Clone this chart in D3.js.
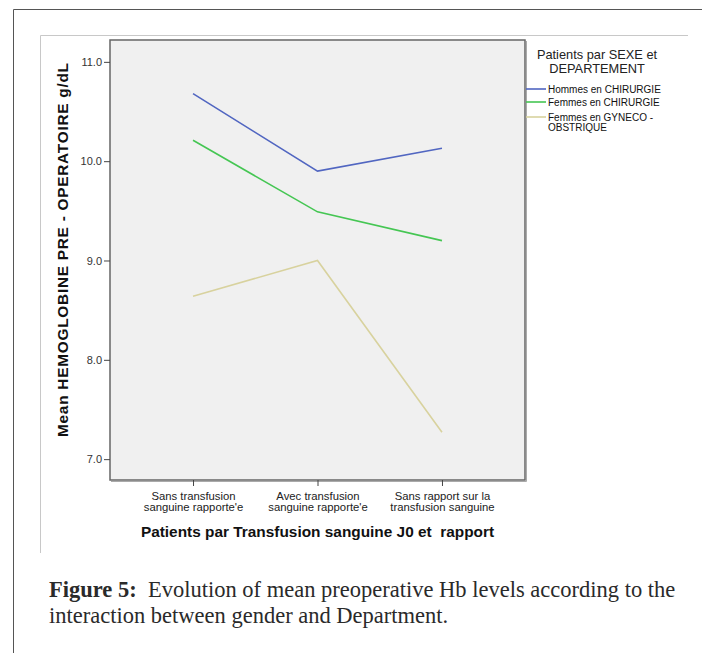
<!DOCTYPE html>
<html>
<head>
<meta charset="utf-8">
<script src="https://cdn.jsdelivr.net/npm/d3@7"></script>
<style>
  body { margin: 0; background: #fff; }
  svg { display: block; }
</style>
</head>
<body>
<svg id="chart"></svg>
<script>
// categories on the x axis (two lines each)
const categories = [
  ["Sans transfusion", "sanguine rapporte'e"],
  ["Avec transfusion", "sanguine rapporte'e"],
  ["Sans rapport sur la", "transfusion sanguine"]
];
const seriesNames = ["Hommes en CHIRURGIE", "Femmes en CHIRURGIE", ["Femmes en GYNECO -", "OBSTRIQUE"]];
const hommesChirurgie = [10.68, 9.90, 10.13];
const femmesChirurgie = [10.21, 9.49, 9.20];
const femmesGyneco = [8.64, 9.00, 7.27];
const yTicks = [7, 8, 9, 10, 11];

const width = 702, height = 653;
const colors = ["#5166c1", "#45c653", "#d8d29e"];
const series = [hommesChirurgie, femmesChirurgie, femmesGyneco];
const sans = "Liberation Sans, Arial, sans-serif";

const svg = d3.select("#chart").attr("width", width).attr("height", height);

// outer frame
svg.append("path").attr("d", "M13.5,653 L13.5,9.5 L702,9.5")
  .attr("fill", "none").attr("stroke", "#555").attr("stroke-width", 1);
// inner (light) frame
svg.append("path").attr("d", "M40.5,553 L40.5,35.5 L688,35.5")
  .attr("fill", "none").attr("stroke", "#c8c8c8").attr("stroke-width", 1);

const plot = { left: 110, top: 40, right: 525, bottom: 480 };

const x = d3.scalePoint()
  .domain(d3.range(categories.length))
  .range([plot.left, plot.right])
  .padding(0.667);

const y = d3.scaleLinear()
  .domain([6.79, 11.22])
  .range([plot.bottom, plot.top]);

// plot background
svg.append("rect")
  .attr("x", plot.left).attr("y", plot.top)
  .attr("width", plot.right - plot.left).attr("height", plot.bottom - plot.top)
  .attr("fill", "#f0f0f0");

// lines
const line = d3.line().x((d, i) => x(i)).y(d => y(d));
svg.selectAll(".series")
  .data(series)
  .enter().append("path")
    .attr("class", "series")
    .attr("d", line)
    .attr("fill", "none")
    .attr("stroke", (d, i) => colors[i])
    .attr("stroke-width", 1.6);

// frame with a little shadow on right/bottom
svg.append("path")
  .attr("d", `M${plot.right + 1.5},${plot.top + 1} L${plot.right + 1.5},${plot.bottom + 1.5} L${plot.left + 1},${plot.bottom + 1.5}`)
  .attr("fill", "none").attr("stroke", "#aaa").attr("stroke-width", 1);
svg.append("rect")
  .attr("x", plot.left).attr("y", plot.top)
  .attr("width", plot.right - plot.left).attr("height", plot.bottom - plot.top)
  .attr("fill", "none").attr("stroke", "#666").attr("stroke-width", 1.5);

// y axis
const yAxis = svg.append("g")
  .attr("transform", `translate(${plot.left},0)`)
  .call(d3.axisLeft(y).tickValues(yTicks).tickFormat(d3.format(".1f")).tickSize(6).tickPadding(2));
yAxis.select(".domain").remove();
yAxis.selectAll(".tick line").attr("stroke", "#444");
yAxis.selectAll(".tick text")
  .attr("font-family", sans)
  .attr("font-size", 11).attr("fill", "#333");

// x axis
const xAxis = svg.append("g")
  .attr("transform", `translate(0,${plot.bottom})`)
  .call(d3.axisBottom(x).tickSize(6).tickFormat(""));
xAxis.select(".domain").remove();
xAxis.selectAll(".tick line").attr("stroke", "#444");
xAxis.selectAll(".tick").each(function(d) {
  const t = d3.select(this).append("text")
    .attr("text-anchor", "middle")
    .attr("font-family", sans)
    .attr("font-size", 11.3).attr("fill", "#222");
  categories[d].forEach((s, k) => {
    t.append("tspan").attr("x", 0).attr("y", 20 + k * 10.5).text(s);
  });
});

// axis titles
svg.append("text")
  .attr("x", (plot.left + plot.right) / 2).attr("y", 537)
  .attr("text-anchor", "middle")
  .attr("font-family", sans)
  .attr("font-weight", "bold").attr("font-size", 15.4).attr("fill", "#111")
  .style("white-space", "pre")
  .text("Patients par Transfusion sanguine J0 et  rapport");

svg.append("text")
  .attr("transform", "translate(68,250) rotate(-90)")
  .attr("text-anchor", "middle")
  .attr("font-family", sans)
  .attr("font-weight", "bold").attr("font-size", 15.4).attr("fill", "#111")
  .attr("textLength", 374).attr("lengthAdjust", "spacing")
  .text("Mean HEMOGLOBINE PRE - OPERATOIRE g/dL");

// legend
const legend = svg.append("g").attr("font-family", sans);
legend.append("text")
  .attr("text-anchor", "middle").attr("font-size", 12.8).attr("fill", "#222")
  .selectAll("tspan").data(["Patients par SEXE et", "DEPARTEMENT"]).enter()
  .append("tspan").attr("x", 597).attr("y", (d, i) => 58.5 + i * 14).text(d => d);

const itemY = [89, 102, 117];
seriesNames.forEach((name, i) => {
  legend.append("line")
    .attr("x1", 526).attr("x2", 546)
    .attr("y1", itemY[i]).attr("y2", itemY[i])
    .attr("stroke", colors[i]).attr("stroke-width", 1.6);
  const lines = Array.isArray(name) ? name : [name];
  const t = legend.append("text").attr("font-size", 10).attr("fill", "#111");
  lines.forEach((s, k) => {
    t.append("tspan").attr("x", 548).attr("y", itemY[i] + 3.5 + k * 10).text(s);
  });
});

// caption
const cap = svg.append("text")
  .attr("font-family", "Liberation Serif, Times New Roman, serif")
  .attr("font-size", 22.5).attr("fill", "#2a2a2a");
const l1 = cap.append("tspan").attr("x", 49).attr("y", 597);
l1.append("tspan").attr("font-weight", "bold").text("Figure 5:");
l1.append("tspan").text("\u00a0\u00a0Evolution of mean preoperative Hb levels according to the");
cap.append("tspan").attr("x", 49).attr("y", 623).text("interaction between gender and Department.");
</script>
</body>
</html>
